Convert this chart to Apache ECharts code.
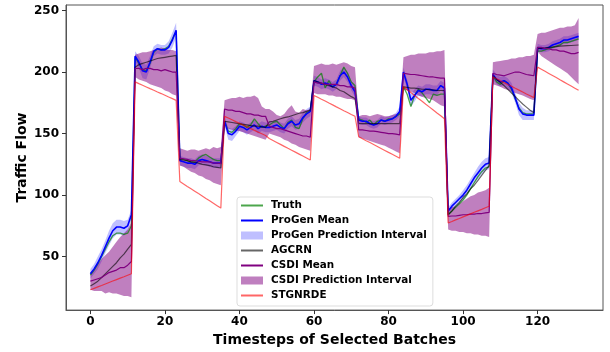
<!DOCTYPE html>
<html>
<head>
<meta charset="utf-8">
<script src="https://cdn.jsdelivr.net/npm/echarts@6/dist/echarts.min.js"></script>
<style>
html,body{margin:0;padding:0;background:#fff;}
#chart{width:610px;height:352px;}
</style>
</head>
<body>
<div id="chart"></div>
<script>
// ---- Data (132 timesteps, 11 batches of 12) ----
const truth = [
35,39,44,50,56,62,67,69,69,68,69,75,
212,207,202,201,207,216,219,218,219,221,227,233,
130,129,128,127,127,130,132,133,131,129,128,128,
160,152,151,154,158,157,155,157,162,158,155,156,
157,159,160,157,154,159,161,155,154,162,167,168,
192,196,199,187,193,188,190,197,204,199,192,189,
162,161,159,161,157,160,161,160,162,162,164,166,
188,182,172,181,186,183,179,175,182,181,182,182,
84,87,90,93,96,100,105,110,115,119,122,123,
197,192,190,193,191,186,178,171,167,166,166,166,
217,217,218,219,220,221,222,224,224,225,226,227];

const progenMean = [
36,40,45,51,58,65,71,74,74,73,75,84,
213,208,201,200,208,217,219,218,218,220,226,234,
128,127,126,126,125,128,129,128,127,126,126,126,
160,150,149,152,156,155,153,155,157,154,156,155,
155,156,157,155,154,158,160,157,158,163,166,168,
193,192,190,191,190,188,190,197,200,196,189,184,
161,160,160,158,157,158,161,160,161,162,164,168,
200,190,177,181,185,184,186,186,185,185,189,187,
87,91,94,97,100,104,109,114,118,122,125,126,
198,194,192,193,191,187,179,170,166,165,165,165,
220,219,219,220,222,223,224,226,226,227,228,229];

const progenUpper = [
40,44,50,56,63,71,77,80,80,79,80,88,
217,213,207,206,213,221,223,222,222,225,232,240,
132,131,130,130,129,132,133,132,131,130,130,130,
164,155,154,156,160,159,157,159,161,158,160,159,
159,160,161,159,158,162,164,161,162,167,170,172,
197,196,194,195,194,192,194,201,204,200,193,188,
164,163,163,161,160,161,164,163,164,165,167,172,
204,194,182,186,189,188,190,190,189,189,193,191,
90,94,97,100,104,108,113,118,123,127,130,131,
202,198,196,197,195,191,183,175,171,169,169,169,
223,222,222,223,225,226,227,229,229,230,231,232];

const progenLower = [
32,36,40,46,53,59,65,68,68,67,70,80,
209,203,195,194,203,213,215,214,214,215,220,228,
124,123,122,122,121,124,125,124,123,122,122,122,
156,145,144,148,152,151,149,151,153,150,152,151,
151,152,153,151,150,154,156,153,154,159,162,164,
189,188,186,187,186,184,186,193,196,192,185,180,
158,157,157,155,154,155,158,157,158,159,161,164,
196,186,172,176,181,180,182,182,181,181,185,183,
84,88,91,94,96,100,105,110,113,117,120,121,
194,190,188,189,187,183,175,165,161,161,161,161,
217,216,216,217,219,220,221,223,223,224,225,226];

const agcrn = [
26,28,30,33,36,39,42,45,49,52,56,60,
204,206,207,208,209,210,211,211.5,212,212.5,213,213.5,
129,128.5,128,127,126.5,126,125,124.5,124,123,122.5,122,
160,159.5,159,158.5,158,157.5,157,156.5,156,156,155.5,155,
159.5,160,161,162,163,163.5,164.5,165.5,166.5,167,168,169,
193,192,191,190,189,188,187,185,184,182,180,178.5,
158,158,158,158,158,158,158,158,158,158,158,158,
188,187.5,187,187,186.5,186,186,185.5,185.5,185,185,185,
84,87,91,94,98,101,105,108,112,116,120,124,
197,194,191.5,189,186,183,180,177,174,171.5,169,167,
219,219.3,219.6,220,220.3,220.6,221,221.2,221.4,221.6,221.8,222];

const csdiMean = [
30,31,32,33,35,37,38,39,41,41,43,46,
203,203,202,203,203,202,202,201,202,201,200,200,
130,129.5,129,128,128,127.5,127,127,127,126,126,125.5,
170,169,169,168,168,167,166,166,165,165,164,164,
156,155,154,154,153,152,151,150,149,148,148,147,
192,191,191,190,190,190,190,189,189,188,188,187,
153,153,152.5,152,152,151.5,151,150.5,150,150,149.5,149,
199,198.5,198,198,197.5,197,196.5,196,196,195.5,195,195,
82.7,83,83,83.5,84,84,84.5,84.5,85,85,85.5,86,
199,198,197.5,197,198,199,200,200,199,198,197.5,197,
220,220,219,219,218,218,217,217,216,215,215,216];

const csdiUpper = [
36,40,44,48,51,54,58,62,66,69,72,78,
214,215,216,216,217,218,219,220,219,218,218,217,
138,137,136,137,137,136,137,138,137,139,138,139,
177,178,179,179,180,179,180,180,181,179,172,170,
170,168,165,164,166,170,173,168,167,170,169,170,
205,206,207,206,206,207,206,207,208,207,205,204,
164,165,165,164,165,166,165,164,164,165,166,167,
212,213,214,214,215,215,215,216,216,217,217,218,
89,90,91,93,95,97,99,100,102,103,104,106,
208,208.5,209,209.5,210,211,211,212,212,213,213,214,
231,232,232,233,234,235,236,236,237,237,238,244];

const csdiLower = [
23,22,22,22,20,21,20,20,19,18,18,17,
196,194,193,192,190,189,188,187,185,184,182,181,
124,123,121,119,118,116,115,113,112,110,109,108,
157,154,153,152,152,151,150,149,148,147,146,145,
150,149,148,147,145,144,142,141,139,138,137,136,
183,182,182,182,181,181,180,180,179,178,178,177,
147,146,145,144,143,142,141,140,138.5,137,135.5,134,
186,185,184,183,181,180,179,178,177,175,173,172,
72,71,71,70,70,69,69,68,68,67,67,66,
190,189,188,186.5,185.5,184,183,182,181,179.5,178,177,
217,213,211,209,207,205,203,201,199,196,193,190];

const stgnrde = [
23,24.2,25.4,26.5,27.7,28.9,30.1,31.3,32.5,33.6,34.8,36,
192,190.6,189.3,187.9,186.5,185.2,183.8,182.5,181.1,179.7,178.4,177,
111,109,107,105.1,103.2,101.2,99.3,97.3,95.4,93.4,91.4,89.4,
164,162.6,161.2,159.7,158.3,156.9,155.5,154.1,152.6,151.2,149.8,148.4,
146,144.4,142.8,141.2,139.6,138,136.5,134.9,133.3,131.7,130.1,128.5,
181,179.5,177.9,176.4,174.8,173.3,171.7,170.2,168.6,167.1,165.5,164,
147.4,145.8,144.2,142.7,141.1,139.5,137.9,136.3,134.7,133.2,131.6,130,
188,185.6,183.3,180.9,178.5,176.2,173.8,171.5,169.1,166.7,164.4,162,
77.3,78.5,79.8,81,82.3,83.5,84.7,86,87.2,88.4,89.7,90.9,
196,194.5,193,191.4,189.9,188.4,186.8,185.3,183.8,182.2,180.7,179.2,
204,202.3,200.6,198.9,197.2,195.5,193.7,192,190.3,188.6,186.9,185.2];

const xTicks = [0, 20, 40, 60, 80, 100, 120];
const yTicks = [50, 100, 150, 200, 250];

// ---- Build chart ----
const pts = arr => arr.map((v, i) => [i, v]);
const FONT = 'DejaVu Sans';
const chart = echarts.init(document.getElementById('chart'), null, {renderer: 'canvas'});

const lineSeries = (name, data, color, width) => ({
  name, type: 'line', data: pts(data), symbol: 'none', showSymbol: false,
  lineStyle: {color, width}, itemStyle: {color}, z: 3, silent: true
});

// band drawn as one polygon through the axes' coordinate system
const bandSeries = (name, upper, lower, color) => ({
  name, type: 'custom', coordinateSystem: 'cartesian2d', silent: true, z: 1, clip: true,
  itemStyle: {color},
  data: [[0, upper[0]]],
  renderItem: (params, api) => {
    const top = upper.map((v, i) => api.coord([i, v]));
    const bot = lower.map((v, i) => api.coord([i, v])).reverse();
    return {type: 'polygon', shape: {points: top.concat(bot)}, style: {fill: color}};
  }
});

const bandColorP = 'rgba(0,0,255,0.25)';
const bandColorC = 'rgba(128,0,128,0.5)';
const hideSym = {opacity: 0};

const option = {
  animation: false,
  backgroundColor: '#fff',
  grid: {left: 66, right: 7, top: 5, bottom: 40, show: true, borderColor: '#555', borderWidth: 1, backgroundColor: 'transparent'},
  xAxis: {
    type: 'value', min: -6.55, max: 137.55,
    splitLine: {show: false},
    axisLine: {show: true, onZero: false, lineStyle: {color: '#555'}},
    axisTick: {show: true, length: 4, customValues: xTicks, lineStyle: {color: '#333'}},
    axisLabel: {customValues: xTicks, margin: 6, color: '#000', fontFamily: FONT, fontWeight: 'bold', fontSize: 12},
    name: 'Timesteps of Selected Batches', nameLocation: 'middle', nameGap: 21,
    nameTextStyle: {color: '#000', fontFamily: FONT, fontWeight: 'bold', fontSize: 14}
  },
  yAxis: {
    type: 'value', min: 6.5, max: 254.5,
    splitLine: {show: false},
    axisLine: {show: true, onZero: false, lineStyle: {color: '#555'}},
    axisTick: {show: true, length: 4, customValues: yTicks, lineStyle: {color: '#333'}},
    axisLabel: {customValues: yTicks, margin: 7, color: '#000', fontFamily: FONT, fontWeight: 'bold', fontSize: 12},
    name: 'Traffic Flow', nameLocation: 'middle', nameGap: 37, nameMoveOverlap: false,
    nameTextStyle: {color: '#000', fontFamily: FONT, fontWeight: 'bold', fontSize: 14}
  },
  legend: {
    left: 237, top: 197, orient: 'vertical',
    padding: [2, 6, 4, 3], itemGap: 2, itemWidth: 22, itemHeight: 8,
    backgroundColor: 'rgba(255,255,255,0.85)', borderColor: '#ddd', borderWidth: 1, borderRadius: 3,
    textStyle: {color: '#000', fontFamily: FONT, fontWeight: 'bold', fontSize: 10.4, lineHeight: 13, padding: [0, 0, 0, 3]},
    data: [
      {name: 'Truth', itemStyle: hideSym},
      {name: 'ProGen Mean', itemStyle: hideSym},
      {name: 'ProGen Prediction Interval', icon: 'rect', itemStyle: {color: bandColorP}},
      {name: 'AGCRN', itemStyle: hideSym},
      {name: 'CSDI Mean', itemStyle: hideSym},
      {name: 'CSDI Prediction Interval', icon: 'rect', itemStyle: {color: bandColorC}},
      {name: 'STGNRDE', itemStyle: hideSym}
    ]
  },
  series: [
    bandSeries('ProGen Prediction Interval', progenUpper, progenLower, bandColorP),
    bandSeries('CSDI Prediction Interval', csdiUpper, csdiLower, bandColorC),
    lineSeries('Truth', truth, 'rgba(0,128,0,0.7)', 1.3),
    lineSeries('ProGen Mean', progenMean, '#0000ff', 1.6),
    lineSeries('AGCRN', agcrn, 'rgba(0,0,0,0.6)', 1.2),
    lineSeries('CSDI Mean', csdiMean, '#800080', 1.2),
    lineSeries('STGNRDE', stgnrde, 'rgba(255,0,0,0.6)', 1.2)
  ]
};
chart.setOption(option);
</script>
</body>
</html>
